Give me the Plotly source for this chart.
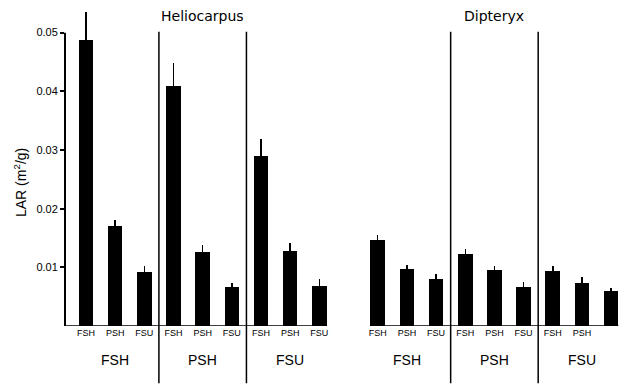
import plotly.graph_objects as go

# ---- data ----
species = ["Heliocarpus", "Dipteryx"]
groups = ["FSH", "PSH", "FSU"]          # growth environment (group labels)
treatments = ["FSH", "PSH", "FSU"]      # bar labels within each group

heliocarpus_lar = [0.0487, 0.0171, 0.0092, 0.0409, 0.0126, 0.0066, 0.0289, 0.0128, 0.0069]
heliocarpus_err = [0.0048, 0.0010, 0.0010, 0.0039, 0.0012, 0.0007, 0.0030, 0.0014, 0.0011]
dipteryx_lar = [0.0147, 0.0097, 0.0080, 0.0123, 0.0095, 0.0067, 0.0094, 0.0074, 0.0059]
dipteryx_err = [0.0008, 0.0007, 0.0009, 0.0009, 0.0007, 0.0008, 0.0009, 0.0010, 0.0005]

y_ticks = [0.01, 0.02, 0.03, 0.04, 0.05]
y_ticktext = ["0.01", "0.02", "0.03", "0.04", "0.05"]

# ---- layout helpers ----
FONT = "Liberation Sans, Arial, Helvetica, sans-serif"
n = len(groups) * len(treatments)
offsets = [0, n + 1]  # slot offset for each species panel

fig = go.Figure()
series = [(heliocarpus_lar, heliocarpus_err), (dipteryx_lar, dipteryx_err)]
tickvals, ticktext = [], []
for sp, off, (vals, errs) in zip(species, offsets, series):
    xs = [off + i for i in range(n)]
    fig.add_trace(go.Bar(
        x=xs, y=vals, name=sp, width=0.5,
        marker=dict(color="black", line=dict(width=0)),
        error_y=dict(type="data", array=errs, arrayminus=[0] * n, symmetric=False,
                     color="black", thickness=1.5, width=0),
        showlegend=False, hoverinfo="skip",
    ))
    tickvals += xs
    ticktext += [treatments[i % len(treatments)] for i in range(n)]

    # baseline under each panel
    fig.add_shape(type="line", xref="x", yref="y",
                  x0=(xs[0] - 0.72) if off == 0 else xs[0] - 0.25, x1=xs[-1] + 0.25,
                  y0=0, y1=0, line=dict(color="black", width=1.5))
    # group dividers
    for g in range(1, len(groups)):
        xd = off + g * len(treatments) - 0.5
        fig.add_shape(type="line", xref="x", yref="paper", x0=xd, x1=xd,
                      y0=-0.18, y1=0.925, line=dict(color="black", width=1.5))
    # group labels
    for g, gl in enumerate(groups):
        fig.add_annotation(x=off + g * len(treatments) + 1, y=-0.107, xref="x", yref="paper",
                           text=gl, showarrow=False, font=dict(size=14, family=FONT, color="black"),
                           xanchor="center", yanchor="middle")
    # species title
    fig.add_annotation(x=off + (n - 1) / 2, y=0.975, xref="x", yref="paper",
                       text=sp, showarrow=False,
                       font=dict(size=14, family="DejaVu Sans, sans-serif", color="black"),
                       xanchor="center", yanchor="middle")

# y axis line from 0 to 0.05
fig.add_shape(type="line", xref="paper", yref="y", x0=0, x1=0, y0=0, y1=y_ticks[-1],
              line=dict(color="black", width=2))

# y-axis title
fig.add_annotation(x=-0.081, y=0.45, xref="paper", yref="paper",
                   text="LAR (m<sup>2</sup>/g)", textangle=-90, showarrow=False,
                   font=dict(size=14, family=FONT, color="black"),
                   xanchor="center", yanchor="middle")

fig.update_layout(
    width=619, height=386,
    margin=dict(l=65, r=0, t=8, b=60),
    paper_bgcolor="white", plot_bgcolor="white",
    bargap=0,
    font=dict(family=FONT, color="black"),
    xaxis=dict(range=[-0.719, 18.27], tickvals=tickvals, ticktext=ticktext,
               tickfont=dict(size=9, family=FONT, color="black"),
               showgrid=False, zeroline=False, showline=False, ticks="", ticklen=0),
    yaxis=dict(range=[0, 0.0542], tickvals=y_ticks, ticktext=y_ticktext,
               tickfont=dict(size=11, family=FONT, color="black"),
               showgrid=False, zeroline=False, showline=False,
               ticks="outside", ticklen=4, tickwidth=1.5, tickcolor="black"),
)

fig.write_html("out.html", config={"displayModeBar": False},
               post_script="document.body.style.margin='0';document.body.style.overflow='hidden';")
